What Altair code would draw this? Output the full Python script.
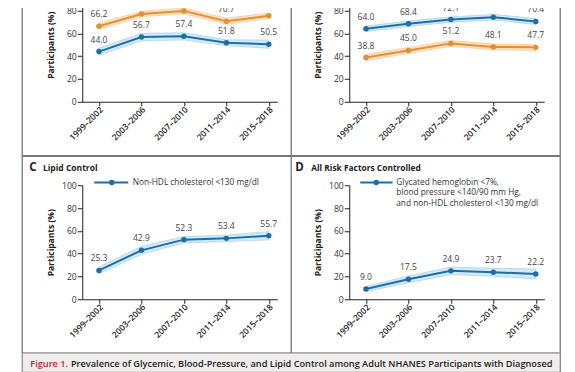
import json
import altair as alt
import pandas as pd

# ---------------- data ----------------
years = ["1999–2002", "2003–2006", "2007–2010", "2011–2014", "2015–2018"]

# A  Glycemic control
a_hba1c7 = [44.0, 56.7, 57.4, 51.8, 50.5]
a_hba1c7_lo = [41.0, 53.4, 54.3, 49.3, 46.9]
a_hba1c7_hi = [47.0, 60.0, 60.5, 54.3, 54.1]
a_hba1c8 = [66.2, 77.0, 79.7, 70.7, 75.4]
a_hba1c8_lo = [63.5, 74.6, 77.3, 68.1, 73.0]
a_hba1c8_hi = [68.9, 79.4, 82.1, 73.3, 77.8]

# B  Blood-pressure control
b_bp140 = [64.0, 68.4, 72.1, 74.2, 70.4]
b_bp140_lo = [61.6, 66.0, 69.8, 71.8, 67.8]
b_bp140_hi = [66.4, 70.8, 74.4, 76.6, 73.0]
b_bp130 = [38.8, 45.0, 51.2, 48.1, 47.7]
b_bp130_lo = [36.0, 42.5, 48.7, 45.6, 45.0]
b_bp130_hi = [41.6, 47.5, 53.7, 50.6, 50.4]

# C  Lipid control
c_nonhdl = [25.3, 42.9, 52.3, 53.4, 55.7]
c_nonhdl_lo = [22.4, 39.5, 49.6, 50.6, 52.1]
c_nonhdl_hi = [28.2, 46.3, 55.0, 56.2, 59.3]

# D  All risk factors controlled
d_all = [9.0, 17.5, 24.9, 23.7, 22.2]
d_all_lo = [6.8, 14.5, 21.7, 20.2, 17.9]
d_all_hi = [11.2, 20.5, 28.1, 27.2, 26.5]

y_ticks = [0, 20, 40, 60, 80, 100]

legend_c = "Non-HDL cholesterol <130 mg/dl"
legend_d = ["Glycated hemoglobin <7%,", "blood pressure <140/90 mm Hg,",
            "and non-HDL cholesterol <130 mg/dl"]
caption_red = "Figure 1."
caption_rest = ("Prevalence of Glycemic, Blood-Pressure, and Lipid Control among "
                "Adult NHANES Participants with Diagnosed")

# ---------------- style ----------------
FONT = "Open Sans"
BLUE, BLUE_BAND, BLUE_EDGE = "#1b6fa6", "#d5eaf7", "#a9d2ec"
ORANGE, ORANGE_BAND, ORANGE_EDGE = "#e38f36", "#fce1c2", "#f7cc9c"
AX = "#222222"
BORDER = "#8a8a8a"
W, H = 195, 114

xscale = alt.Scale(domain=[-0.394, 4.2], nice=False, zero=False)
yscale = alt.Scale(domain=[0, 100], nice=False)
label_expr = json.dumps(years) + "[datum.value]"

xaxis = alt.Axis(values=list(range(len(years))), labelExpr=label_expr, title=None,
                 grid=False, domainColor=AX, tickColor=AX, tickSize=4,
                 labelAngle=315, labelAlign="right", labelBaseline="middle",
                 labelPadding=2, labelOffset=2, labelFont=FONT,
                 labelFontWeight=600, labelFontSize=8.5, labelColor=AX)
yaxis = alt.Axis(values=y_ticks, title="Participants (%)", grid=False,
                 domainColor=AX, tickColor=AX, tickSize=5, labelPadding=1,
                 labelFont=FONT, labelFontSize=8.6, labelColor="#333333",
                 titleFont=FONT, titleFontWeight=700, titleFontSize=8.5,
                 titleColor=AX, titleX=-32, titleY=H / 2, titleAngle=270,
                 titleAlign="center", titleBaseline="middle")

one = pd.DataFrame({"k": [0]})


def series(vals, lo, hi, color, band, edge):
    df = pd.DataFrame({"i": list(range(len(years))), "year": years,
                       "v": vals, "lo": lo, "hi": hi})
    x = alt.X("i:Q", scale=xscale, axis=xaxis)
    base = alt.Chart(df)
    area = base.mark_area(fill=band, stroke=edge, strokeWidth=0.8).encode(
        x=x, y=alt.Y("lo:Q", scale=yscale, axis=yaxis), y2="hi:Q")
    line = base.mark_line(color=color, strokeWidth=2).encode(
        x=x, y=alt.Y("v:Q", scale=yscale, axis=yaxis))
    pts = base.mark_circle(size=30, color=color, opacity=1).encode(
        x=x, y=alt.Y("v:Q", scale=yscale, axis=yaxis))
    lab = base.mark_text(dy=-12, font=FONT, fontSize=8.5, color="#444444").encode(
        x=x, y=alt.Y("v:Q", scale=yscale, axis=yaxis),
        text=alt.Text("v:Q", format=".1f"))
    return [area, line, pts, lab]


def vrule(x, y, y2, color=BORDER, w=1.5):
    return alt.Chart(one).mark_rule(color=color, strokeWidth=w).encode(
        x=alt.value(x), y=alt.value(y), y2=alt.value(y2))


def txt(s, x, y, size=8.5, weight=400, color="#333333", baseline="middle"):
    return alt.Chart(one).mark_text(align="left", baseline=baseline, font=FONT,
                                    fontSize=size, fontWeight=weight,
                                    color=color).encode(
        x=alt.value(x), y=alt.value(y), text=alt.value(s))


# frame + caption (relative to panel A plot origin)
frame = [
    vrule(-60, -40, 365.2),
    vrule(209, -40, 365.2),
    vrule(478, -40, 384.5),
    alt.Chart(one).mark_rule(color="#777777", strokeWidth=2).encode(
        x=alt.value(-60), x2=alt.value(478), y=alt.value(168.2)),
    alt.Chart(one).mark_rect(fill="#efeeec", stroke=BORDER, strokeWidth=1.2).encode(
        x=alt.value(-60), x2=alt.value(478), y=alt.value(365.2), y2=alt.value(384.5)),
    txt(caption_red, -52, 379.5, size=9.2, weight=600, color="#c8202f",
        baseline="alphabetic"),
    txt(caption_rest, -11.3, 379.5, size=9.2, weight=600, color="#222222",
        baseline="alphabetic"),
]

panel_a = alt.layer(
    *series(a_hba1c7, a_hba1c7_lo, a_hba1c7_hi, BLUE, BLUE_BAND, BLUE_EDGE),
    *series(a_hba1c8, a_hba1c8_lo, a_hba1c8_hi, ORANGE, ORANGE_BAND, ORANGE_EDGE),
    *frame,
).properties(width=W, height=H)

panel_b = alt.layer(
    *series(b_bp140, b_bp140_lo, b_bp140_hi, BLUE, BLUE_BAND, BLUE_EDGE),
    *series(b_bp130, b_bp130_lo, b_bp130_hi, ORANGE, ORANGE_BAND, ORANGE_EDGE),
).properties(width=W, height=H)


def legend_line(x1, x2, xd, y):
    return [
        alt.Chart(one).mark_rule(color=BLUE, strokeWidth=2).encode(
            x=alt.value(x1), x2=alt.value(x2), y=alt.value(y)),
        alt.Chart(one).mark_circle(size=30, color=BLUE, opacity=1).encode(
            x=alt.value(xd), y=alt.value(y)),
    ]


panel_c = alt.layer(
    *series(c_nonhdl, c_nonhdl_lo, c_nonhdl_hi, BLUE, BLUE_BAND, BLUE_EDGE),
    txt("C", -53, -17.5, size=11.5, weight=700, color=AX),
    txt("Lipid Control", -39.3, -17.5, size=8.5, weight=700, color=AX),
    *legend_line(12, 46, 29.5, -2.7),
    txt(legend_c, 50.5, -2.7, size=8.3),
).properties(width=W, height=H)

panel_d = alt.layer(
    *series(d_all, d_all_lo, d_all_hi, BLUE, BLUE_BAND, BLUE_EDGE),
    txt("D", -54, -17.5, size=11.5, weight=700, color=AX),
    txt("All Risk Factors Controlled", -38, -17.5, size=8.4, weight=700, color=AX),
    *legend_line(11, 43.3, 27, -2.7),
    txt(legend_d[0], 47, -2.7, size=8.3),
    txt(legend_d[1], 47, 7.7, size=8.3),
    txt(legend_d[2], 47, 18.3, size=8.3),
).properties(width=W, height=H)

chart = alt.concat(
    panel_a, panel_b, panel_c, panel_d,
    columns=2, spacing={"row": 83.5, "column": 72}, bounds="flush",
).properties(
    padding={"top": -61.25, "left": 13.25, "right": 0, "bottom": 0}
).configure_view(strokeWidth=0)

chart.save("out.html", embed_options={"renderer": "svg", "actions": False})
